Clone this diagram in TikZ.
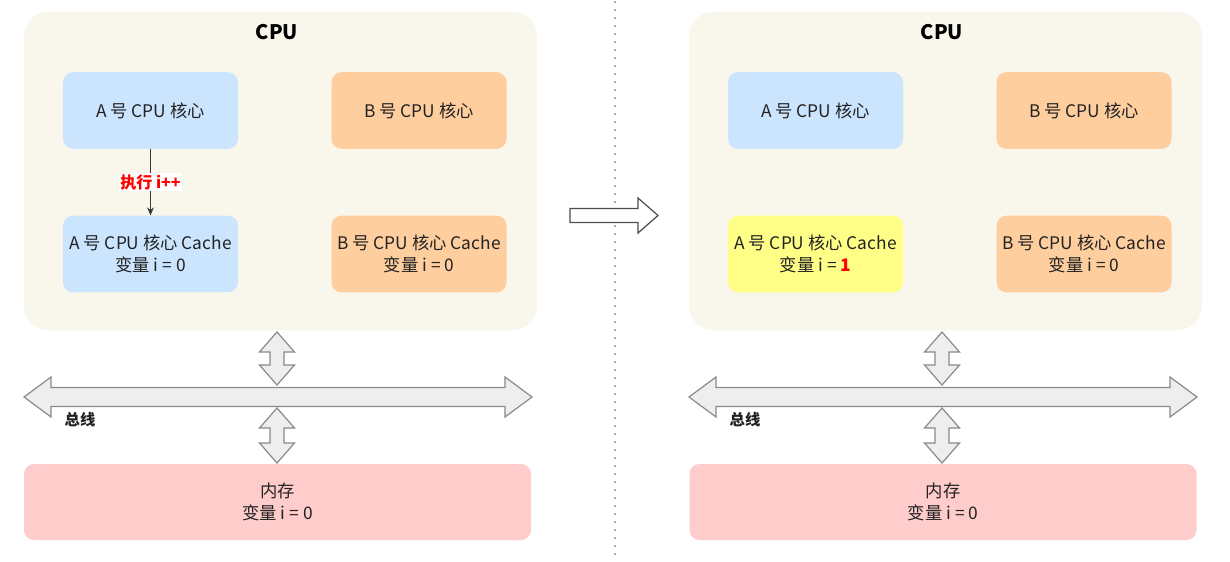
\documentclass[tikz,border=0pt]{standalone}
\usepackage{fontspec}
\setmainfont{Noto Sans CJK SC}
\newfontfamily\cjk{Noto Sans CJK SC}
\usetikzlibrary{arrows.meta}
\definecolor{cpubg}{HTML}{F9F6EC}
\definecolor{coreA}{HTML}{CCE5FF}
\definecolor{coreB}{HTML}{FFCE9F}
\definecolor{memc}{HTML}{FFCCCC}
\definecolor{yel}{HTML}{FFFF88}
\definecolor{busfill}{HTML}{EEEEEE}
\definecolor{busline}{HTML}{8A8A8A}
\definecolor{txt}{HTML}{222222}
\definecolor{redt}{HTML}{FF0000}
\newcommand{\vdblarrow}[3]{% cx, top, bottom
  \draw[busshape] (#1,#2) -- (#1+17.5,#2+20) -- (#1+7,#2+20) -- (#1+7,#3-20) -- (#1+17.5,#3-20) -- (#1,#3)
    -- (#1-17.5,#3-20) -- (#1-7,#3-20) -- (#1-7,#2+20) -- (#1-17.5,#2+20) -- cycle;}
\newcommand{\hdblarrow}[3]{% left, right, cy
  \draw[busshape] (#1,#3) -- (#1+27,#3-20) -- (#1+27,#3-9.5) -- (#2-27,#3-9.5) -- (#2-27,#3-20) -- (#2,#3)
    -- (#2-27,#3+20) -- (#2-27,#3+9.5) -- (#1+27,#3+9.5) -- (#1+27,#3+20) -- cycle;}
\tikzset{
  container/.style={fill=cpubg, rounded corners=18pt, minimum width=384.75pt, minimum height=238.5pt, inner sep=0pt},
  corebox/.style={rounded corners=7.5pt, minimum width=131.25pt, minimum height=57.5pt, align=center, inner sep=0pt,
     font=\cjk\fontsize{13}{16.5}\selectfont, text=txt},
  membox/.style={fill=memc, rounded corners=7.5pt, minimum width=380.25pt, minimum height=57pt, align=center, inner sep=0pt,
     font=\cjk\fontsize{13}{16.5}\selectfont, text=txt},
  title/.style={font=\cjk\bfseries\fontsize{15}{17}\selectfont, text=black},
  buslabel/.style={font=\cjk\bfseries\fontsize{11.5}{13}\selectfont, text=txt},
  busshape/.style={fill=busfill, draw=busline, line width=0.9pt, line join=miter},
  flow/.style={draw=txt!90, line width=0.8pt, -{Stealth[length=6pt,width=5pt]}},
  redlab/.style={font=\cjk\bfseries\fontsize{12}{14}\selectfont, text=redt, fill=white, inner sep=1pt},
}
\begin{document}
\begin{tikzpicture}[x=0.75pt,y=-0.75pt]
\useasboundingbox (0,0) rectangle (1230,561);
\fill[white] (0,0) rectangle (1230,561);

% divider
\coordinate (divT) at (615,2);
\coordinate (divB) at (615,559);
\draw[gray!70!black, line width=1.3pt, line cap=round, dash pattern=on 0pt off 6pt] (divT) -- (divB);

% ===== left panel =====
\node[container] (cpuL) at (280.5,171) {};
\node[title] (cpuLt) at (277,32) {CPU};
\node[corebox, fill=coreA] (aL) at (150.5,110.5) {A 号 CPU 核心};
\node[corebox, fill=coreB] (bL) at (419,110.5) {B 号 CPU 核心};
\node[corebox, fill=coreA] (acL) at (150.5,254) {A 号 CPU 核心 Cache\\变量 i = 0};
\node[corebox, fill=coreB] (bcL) at (419,254) {B 号 CPU 核心 Cache\\变量 i = 0};
\draw[flow] (aL) -- node[redlab] {执行 i++} (acL);
\vdblarrow{277}{332}{385}
\hdblarrow{24}{532}{397}
\vdblarrow{277}{408}{463}
\node[buslabel] (busL) at (80,420) {总线};
\node[membox] (memL) at (277.5,502) {内存\\变量 i = 0};

% ===== middle arrow =====
\draw[fill=white, draw=txt!80, line width=0.9pt, line join=miter]
  (570,208.5) -- (638,208.5) -- (638,198) -- (658,215.5) -- (638,233) -- (638,222.5) -- (570,222.5) -- cycle;

% ===== right panel =====
\node[container] (cpuR) at (945.5,171) {};
\node[title] (cpuRt) at (942,32) {CPU};
\node[corebox, fill=coreA] (aR) at (815.5,110.5) {A 号 CPU 核心};
\node[corebox, fill=coreB] (bR) at (1084,110.5) {B 号 CPU 核心};
\node[corebox, fill=yel] (acR) at (815.5,254) {A 号 CPU 核心 Cache\\变量 i = {\bfseries\color{redt}1}};
\node[corebox, fill=coreB] (bcR) at (1084,254) {B 号 CPU 核心 Cache\\变量 i = 0};
\vdblarrow{942}{332}{385}
\hdblarrow{689}{1197}{397}
\vdblarrow{942}{408}{463}
\node[buslabel] (busR) at (745,420) {总线};
\node[membox] (memR) at (943,502) {内存\\变量 i = 0};
\end{tikzpicture}
\end{document}
